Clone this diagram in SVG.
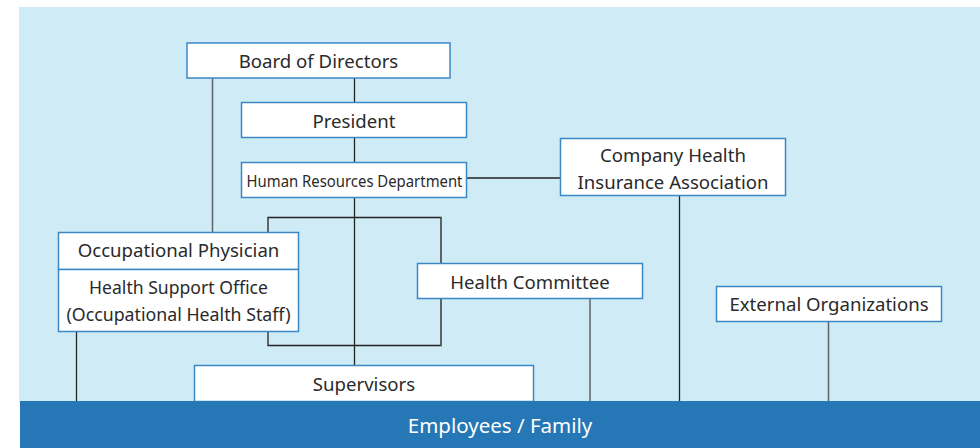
<svg xmlns="http://www.w3.org/2000/svg" width="980" height="448" viewBox="0 0 980 448">
  <style>
    .box { fill: #ffffff; stroke: #3b88c6; stroke-width: 1.5; }
    .lbl { font-family: "Noto Sans", "Open Sans", "DejaVu Sans", sans-serif; font-size: 18.6px; fill: #2a2a2a; text-anchor: middle; }
    .ln { fill: none; stroke: #222222; stroke-width: 1.3; }
    .lg { fill: none; stroke: #5e6466; stroke-width: 1.5; }
  </style>

  <!-- backdrop -->
  <rect x="0" y="0" width="980" height="448" fill="#ffffff"/>
  <rect x="19" y="7" width="961" height="395" fill="#cfebf6"/>

  <!-- connectors -->
  <g id="connectors">
    <path class="ln" d="M354.5 78 V102 M354.5 138 V162 M354.5 198 V365"/>
    <path class="lg" d="M212.5 78 V232"/>
    <path class="ln" d="M467 178 H560"/>
    <path class="ln" d="M268 232 V217.5 H441 V263"/>
    <path class="ln" d="M268 331 V345.5 H441 V299"/>
    <path class="lg" d="M441 217.5 V263 M441 299 V345.5"/>
    <path class="ln" d="M76.5 331 V401"/>
    <path class="lg" d="M590 299 V401"/>
    <path class="ln" d="M679.5 195 V401"/>
    <path class="lg" d="M828.5 321 V401"/>
  </g>

  <g id="board">
    <rect class="box" x="187" y="43" width="263" height="35"/>
    <text class="lbl" x="318.5" y="68">Board of Directors</text>
  </g>

  <g id="president">
    <rect class="box" x="241.5" y="102.5" width="225" height="35"/>
    <text class="lbl" x="354" y="128">President</text>
  </g>

  <g id="hr">
    <rect class="box" x="241.5" y="162.5" width="225" height="35"/>
    <text class="lbl" x="354.5" y="187" style="font-size:16px" textLength="216" lengthAdjust="spacingAndGlyphs">Human Resources Department</text>
  </g>

  <g id="insurance">
    <rect class="box" x="560.5" y="138.5" width="225" height="57"/>
    <text class="lbl" x="673" y="161.5">Company Health</text>
    <text class="lbl" x="673" y="188.5">Insurance Association</text>
  </g>

  <g id="physician">
    <rect class="box" x="58.5" y="232.5" width="240" height="37"/>
    <text class="lbl" x="178.5" y="257">Occupational Physician</text>
  </g>

  <g id="support-office">
    <rect class="box" x="58.5" y="269.5" width="240" height="62"/>
    <text class="lbl" x="178.5" y="294" textLength="179" lengthAdjust="spacingAndGlyphs">Health Support Office</text>
    <text class="lbl" x="178.5" y="321" textLength="224" lengthAdjust="spacingAndGlyphs">(Occupational Health Staff)</text>
  </g>

  <g id="committee">
    <rect class="box" x="417.5" y="263.5" width="225" height="35"/>
    <text class="lbl" x="530" y="289">Health Committee</text>
  </g>

  <g id="external">
    <rect class="box" x="716.5" y="286.5" width="225" height="35"/>
    <text class="lbl" x="829" y="311">External Organizations</text>
  </g>

  <g id="supervisors">
    <rect class="box" x="194.5" y="365.5" width="339" height="36"/>
    <text class="lbl" x="364" y="391">Supervisors</text>
  </g>

  <g id="employees">
    <rect x="20" y="401" width="960" height="47" fill="#2577b5"/>
    <text class="lbl" x="500" y="433" style="fill:#ffffff;font-size:20.5px">Employees / Family</text>
  </g>
</svg>
